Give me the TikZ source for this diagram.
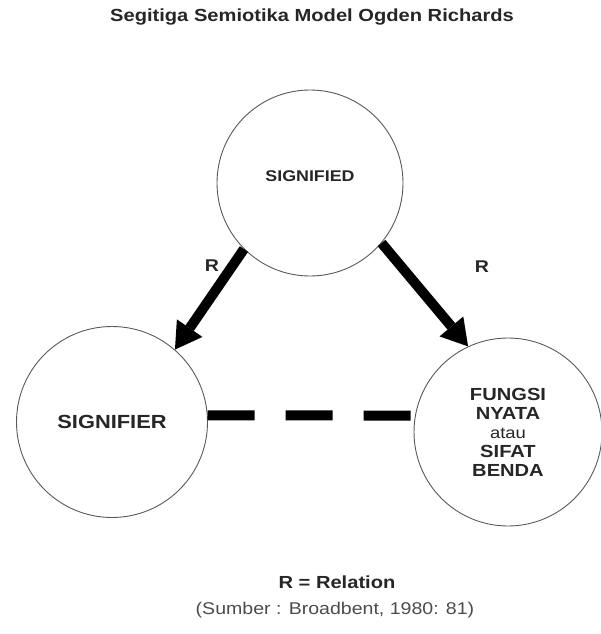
\documentclass[tikz,border=0pt]{standalone}
\usepackage{fontspec}
\setmainfont{Liberation Sans}[FakeStretch=1.15]
\usetikzlibrary{arrows.meta,positioning}

\begin{document}
\begin{tikzpicture}[x=1pt,y=-1pt,
    concept/.style={circle,draw=black!65,line width=.9pt,minimum size=#1,inner sep=0pt,align=center,text=black!85},
    rel/.style={-{Triangle[width=31pt,length=26pt,line width=0pt]},line width=10pt},
    link/.style={line width=10pt,dash pattern=on 47pt off 31pt},
    bold/.style={font=\bfseries\fontsize{#1}{19}\selectfont,text=black!85}]
  \useasboundingbox (0,0) rectangle (601,634);
  \node[bold=17.5,anchor=base]                         (title)     at (312,22)  {Segitiga Semiotika Model Ogden Richards};
  \node[concept=186pt,bold=15.5,text height=11pt,text depth=14pt] (signified) at (310,183) {SIGNIFIED};
  \node[concept=191pt,bold=19]                         (signifier) at (112,422) {SIGNIFIER};
  \node[concept=188pt,bold=17.5]                       (benda)     at (508,432) {FUNGSI\\NYATA\\{\mdseries\fontsize{16}{19}\selectfont atau}\\SIFAT\\BENDA};
  \node[bold=17]                                       (rleft)     at (212,266) {R};
  \node[bold=17]                                       (rright)    at (482,267) {R};
  \node[bold=17.5,anchor=base]                         (legend)    at (337,588) {R = Relation};
  \node[font=\fontsize{17}{19}\selectfont,text=black!70,anchor=base] (source) at (335,614) {(Sumber : Broadbent, 1980: 81)};

  \path[rel] (signified.225) edge (signifier.49)
             (signified.320) edge (benda.115);
  \draw[link] (signifier.4) -- (benda.170);
\end{tikzpicture}
\end{document}
